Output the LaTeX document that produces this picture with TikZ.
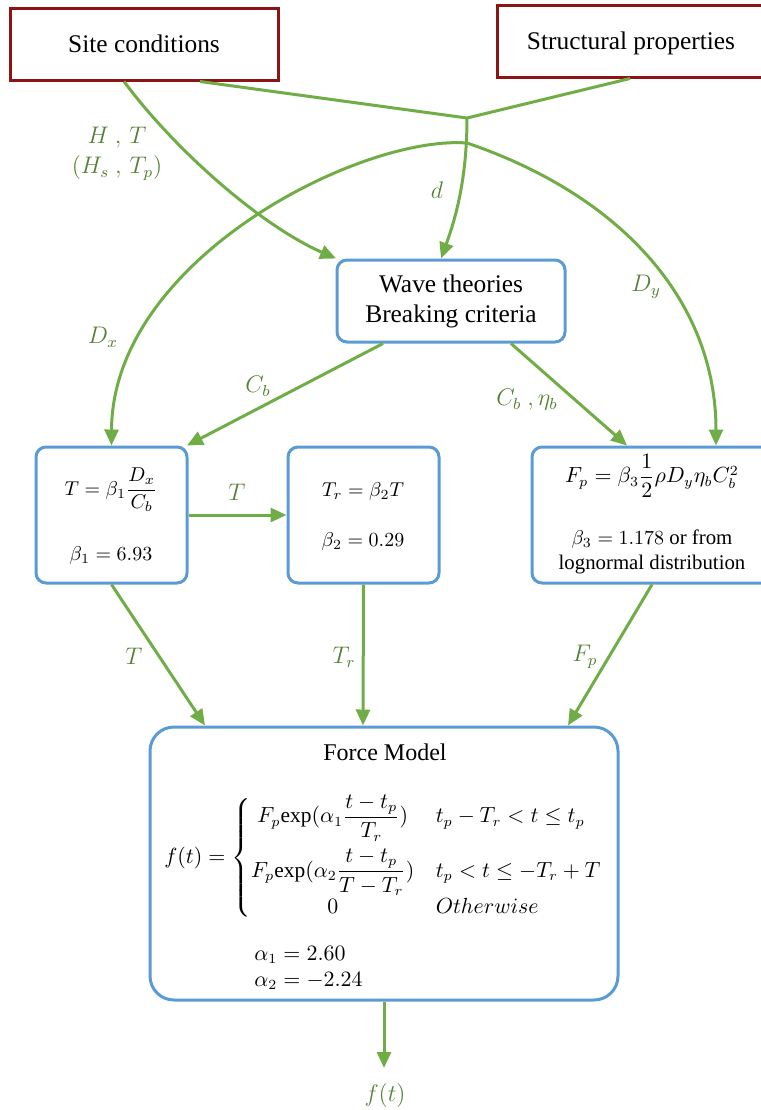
\documentclass[tikz,border=0pt]{standalone}
\usepackage{amsmath}
\usepackage{fontspec}
\setmainfont{Liberation Serif}
\usetikzlibrary{arrows.meta,calc}
\definecolor{lgreen}{RGB}{112,173,71}
\definecolor{dgreen}{RGB}{84,130,53}
\definecolor{boxblue}{RGB}{91,155,213}
\definecolor{dred}{RGB}{140,20,20}
\begin{document}
\begin{tikzpicture}[x=0.5pt,y=-0.5pt,
  font=\fontsize{10.3}{12}\selectfont,
  bigtext/.style={font=\fontsize{12.7}{15}\selectfont},
  redbox/.style={draw=dred,line width=1.5pt,inner sep=0pt,minimum height=36pt,bigtext},
  bluebox/.style={draw=boxblue,line width=1.5pt,rounded corners=5pt,inner sep=0pt},
  conn/.style={draw=lgreen,line width=1.5pt,-{Triangle[length=8pt,width=7pt]}},
  plain/.style={draw=lgreen,line width=1.5pt},
  lab/.style={text=dgreen,inner sep=0pt,font=\fontsize{12}{14}\selectfont},
  txt/.style={inner sep=0pt}]
\useasboundingbox (0,0) rectangle (761,1110);

% boxes
\node[redbox,minimum width=134pt] (site) at (144,44) {Site conditions};
\node[redbox,minimum width=138.5pt] (struct) at (636,41) {};
\node[txt,bigtext] (structtxt) at (631,43) {Structural properties};
\node[bluebox,minimum width=114pt,minimum height=41pt,align=center,bigtext] (wave) at (451,301)
  {Wave theories\\[0pt]Breaking criteria};
\node[bluebox,minimum width=75.5pt,minimum height=68pt] (tb) at (111.5,515) {};
\node[bluebox,minimum width=75.5pt,minimum height=68pt] (trb) at (363.5,515) {};
\node[bluebox,minimum width=120pt,minimum height=68pt] (fpb) at (652,515) {};
\node[draw=boxblue,line width=1.5pt,rounded corners=12pt,minimum width=234pt,minimum height=136.5pt,inner sep=0pt] (force) at (384,863.5) {};

% box contents
\node[txt] (teq) at (111,490) {$T=\beta_1\dfrac{D_x}{C_b}$};
\node[txt] (tb1) at (111,555) {$\beta_1=6.93$};
\node[txt] (treq) at (363,491) {$T_r=\beta_2 T$};
\node[txt] (trb2) at (363,541) {$\beta_2=0.29$};
\node[txt,font=\fontsize{10.5}{12}\selectfont] (fpeq) at (652,476) {$F_p=\beta_3\dfrac{1}{2}\rho D_y\eta_b C_b^2$};
\node[txt,align=center,font=\fontsize{10.4}{12.5}\selectfont] (fpb3) at (652,552) {$\beta_3=1.178$ or from\\lognormal distribution};
\node[txt,font=\fontsize{12}{14}\selectfont] (ftitle) at (385,752) {Force Model};
\node[txt,anchor=west,font=\fontsize{10.7}{13}\selectfont] (feq) at (164,858) {$f(t)=\left\{\begin{array}{@{}c@{\quad}l@{}}
  F_p\mathrm{exp}(\alpha_1\dfrac{t-t_p}{T_r}) & t_p-T_r<t\le t_p\\[9pt]
  F_p\mathrm{exp}(\alpha_2\dfrac{t-t_p}{T-T_r}) & t_p<t\le -T_r+T\\[3pt]
  0 & Otherwise
\end{array}\right.$};
\node[txt,anchor=west,align=left,font=\fontsize{10.7}{13}\selectfont] (alph) at (254,968) {$\alpha_1=2.60$\\[0pt]$\alpha_2=-2.24$};

% connectors
\coordinate (J) at (467,118);
\coordinate (A) at (467,143);
\coordinate (fend) at (384,1068);
\draw[plain] ([xshift=28pt]site.south) -- (J);
\draw[plain] ([xshift=-3pt]struct.south) -- (J);
\draw[conn] (J) .. controls (467,180) and (455,220) .. ([xshift=-5pt]wave.north);
\draw[conn] ([xshift=-10pt]site.south) .. controls (175,150) and (260,225) .. ([xshift=-57.5pt]wave.north);
\draw[conn] (A) .. controls (360,135) and (112,260) .. ([xshift=0pt]tb.north);
\draw[conn] (A) .. controls (620,195) and (716,300) .. ([xshift=32pt]fpb.north);
\draw[conn] ([xshift=-34pt]wave.south) -- ([xshift=37.75pt]tb.north);
\draw[conn] ([xshift=30pt]wave.south) -- ([xshift=-12.5pt]fpb.north);
\draw[conn] (tb.east) -- (trb.west);
\draw[conn] (tb.south) -- ([xshift=-89.5pt]force.north);
\draw[conn] (trb.south) -- ([xshift=-10.5pt]force.north);
\draw[conn] (fpb.south) -- ([xshift=92pt]force.north);
\draw[conn] (force.south) -- (fend);

% labels
\node[lab,align=center] (lht) at (117,154) {$H\ ,\,T$\\[1pt]$(H_s\ ,\,T_p)$};
\node[lab] (ld) at (437,190) {$d$};
\node[lab] (ldx) at (103,337) {$D_x$};
\node[lab] (ldy) at (646,287) {$D_y$};
\node[lab] (lcb) at (258,386) {$C_b$};
\node[lab] (lcbeta) at (527,400) {$C_b\ ,\eta_b$};
\node[lab] (lt1) at (237,492) {$T$};
\node[lab] (lt2) at (134,656) {$T$};
\node[lab] (ltr) at (344,657) {$T_r$};
\node[lab] (lfp) at (585,657) {$F_p$};
\node[lab,font=\fontsize{13}{15}\selectfont] (lft) at (385,1095) {$f(t)$};
\end{tikzpicture}
\end{document}
